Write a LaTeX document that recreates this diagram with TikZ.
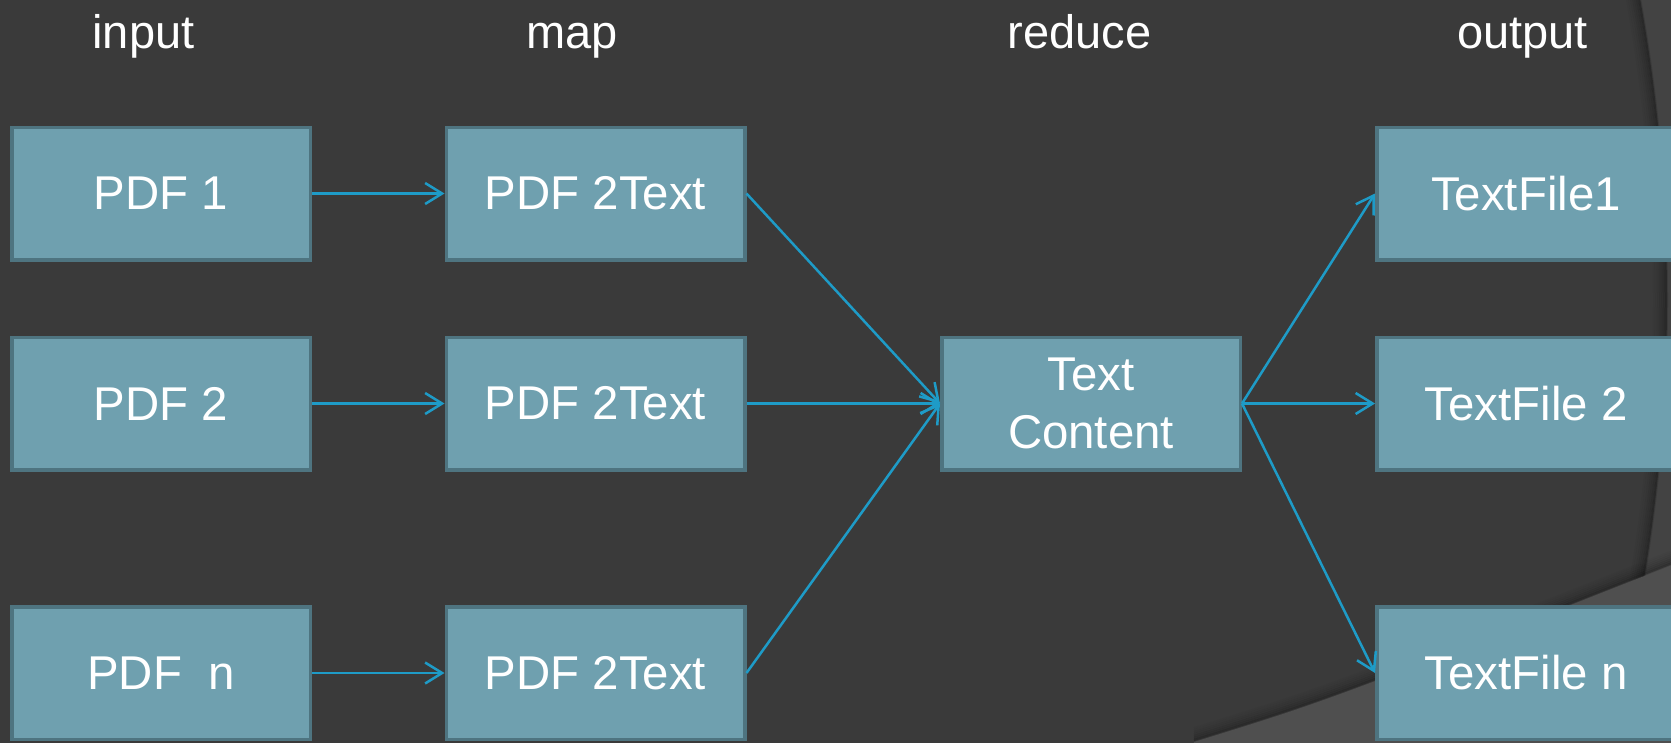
\documentclass[tikz,border=0pt]{standalone}
\usepackage{fontspec}
\setmainfont{Liberation Sans}
\usetikzlibrary{arrows.meta}

\definecolor{bgdark}{HTML}{3A3A3A}
\definecolor{bgouter}{HTML}{434343}
\definecolor{bgband}{HTML}{4F4F4F}
\definecolor{boxfill}{HTML}{6FA0AF}
\definecolor{boxedge}{HTML}{4E7480}
\definecolor{flow}{HTML}{1E9BC7}

\tikzset{
  stage/.style={draw=boxedge, fill=boxfill, line width=3.5pt,
    minimum width=298.5pt, minimum height=132.5pt, inner sep=0pt,
    text=white, font=\fontsize{47.4}{58}\selectfont, align=center},
  header/.style={text=white, font=\fontsize{47}{56}\selectfont,
    anchor=base, inner sep=0pt},
  flowline/.style={draw=flow, line width=2.5pt,
    -{Straight Barb[length=17pt,width=21pt]}}
}

\begin{document}
\begin{tikzpicture}[x=1pt,y=-1pt]
\useasboundingbox (0,0) rectangle (1671,742);
\clip (0,0) rectangle (1671,742);

% backdrop: large disc with a soft inner shadow, lighter band at the lower right
\fill[bgouter] (-10,-10) rectangle (1690,760);
\fill[bgdark] (-12,300) circle[radius=1680pt];
\foreach \k/\o in {1/0.28,2/0.22,3/0.17,4/0.12,5/0.08,6/0.05,7/0.03}
  \draw[black, line width=2pt, opacity=\o] (-12,300) circle[radius={1680pt-2pt*\k}];
\foreach \k/\o in {1/0.25,2/0.19,3/0.14,4/0.10,5/0.07,6/0.04,7/0.02}
  \draw[black, line width=2pt, opacity=\o, shift={(0,-2*\k)}]
    (1194,742) .. controls (1330,700) .. (1690,558);
\fill[bgband] (1194,742) .. controls (1330,700) .. (1690,558)
  -- (1690,760) -- (1190,760) -- cycle;

% column headings
\node[header] (hin)  at (143.5,48) {input};
\node[header] (hmap) at (572,48)   {map};
\node[header] (hred) at (1079.5,48) {reduce};
\node[header] (hout) at (1522.5,48) {output};

% input files
\node[stage] (in1) at (161,193.5) {PDF 1};
\node[stage] (in2) at (161,403.5) {PDF 2};
\node[stage] (in3) at (161,673)   {PDF\ \ n};

% map stage
\node[stage] (map1) at (595.5,193.5) {PDF 2Text};
\node[stage] (map2) at (595.5,403.5) {PDF 2Text};
\node[stage] (map3) at (595.5,673)   {PDF 2Text};

% reduce stage
\node[stage] (red) at (1091,403.5) {Text\\Content};

% output files
\node[stage] (out1) at (1526,193.5) {TextFile1};
\node[stage] (out2) at (1526,403.5) {TextFile 2};
\node[stage] (out3) at (1526,673)   {TextFile n};

% data flow
\draw[flowline] (in1.east) -- (map1.west);
\draw[flowline] (in2.east) -- (map2.west);
\draw[flowline] (in3.east) -- (map3.west);
\draw[flowline] (map1.east) -- (red.west);
\draw[flowline] (map2.east) -- (red.west);
\draw[flowline] (map3.east) -- (red.west);
\draw[flowline] (red.east) -- (out1.west);
\draw[flowline] (red.east) -- (out2.west);
\draw[flowline] (red.east) -- (out3.west);
\end{tikzpicture}
\end{document}
